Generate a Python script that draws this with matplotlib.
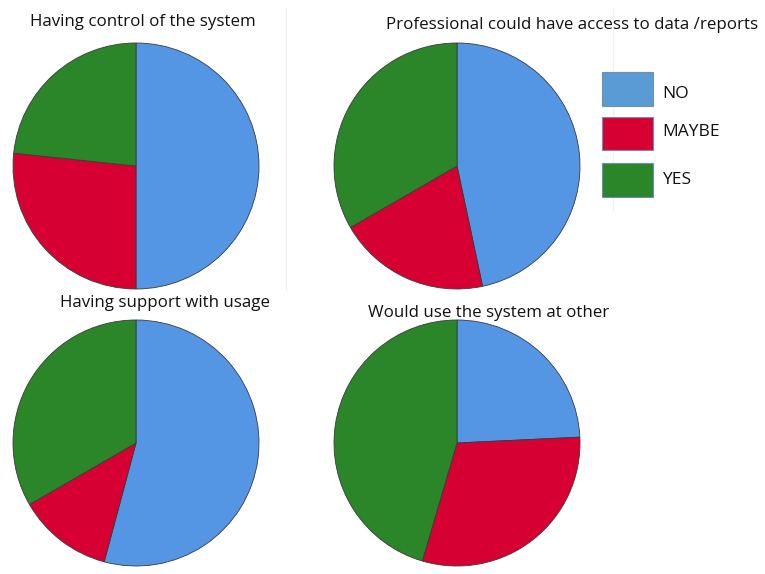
import matplotlib
matplotlib.use("Agg")
import matplotlib.pyplot as plt
from matplotlib.patches import Rectangle

categories = ["NO", "MAYBE", "YES"]
titles = [
    "Having control of the system",
    "Professional could have access to data /reports",
    "Having support with usage",
    "Would use the system at other",
]
control_counts = [15, 8, 7]
access_counts = [14, 6, 10]
support_counts = [13, 3, 8]
other_use_counts = [8, 10, 15]
series = [control_counts, access_counts, support_counts, other_use_counts]

colors = ["#5495E4", "#D60032", "#2A8629"]
legend_colors = ["#5B9BD5", "#D60032", "#2A8629"]

W, H = 765, 574
fig = plt.figure(figsize=(W / 100, H / 100), dpi=100)
plt.rcParams["font.family"] = ["Open Sans", "DejaVu Sans"]

# pie centres (pixels) and radius
centers = [(136, 166), (457, 166), (136, 443), (457, 443)]
radius = 123
box = 126
lim = box / radius

for (cx, cy), vals in zip(centers, series):
    ax = fig.add_axes([(cx - box) / W, 1 - (cy + box) / H, 2 * box / W, 2 * box / H])
    ax.pie(vals, colors=colors, startangle=90, counterclock=False,
           wedgeprops=dict(edgecolor="#3a3a3a", linewidth=0.6))
    ax.set_xlim(-lim, lim)
    ax.set_ylim(-lim, lim)
    ax.set_aspect("equal")
    ax.axis("off")

# overlay in pixel coordinates for panel separators
ov = fig.add_axes([0, 0, 1, 1], zorder=-1)
ov.set_xlim(0, W)
ov.set_ylim(H, 0)
ov.axis("off")
ov.plot([286, 286], [8, 290], color="#f2f2f2", lw=1)
ov.plot([613, 613], [8, 210], color="#f2f2f2", lw=1)

# titles and legend
fig_text = fig.add_axes([0, 0, 1, 1])
fig_text.set_xlim(0, W)
fig_text.set_ylim(H, 0)
fig_text.axis("off")

title_pos = [(143, 22), (572, 25), (165, 303), (489, 313)]
for (tx, ty), t in zip(title_pos, titles):
    fig_text.text(tx, ty, t, ha="center", va="center", fontsize=12.2, color="#111111")

box_y = [(72, 106), (117, 150), (163, 197)]
label_y = [94, 132, 180]
for (y0, y1), ly, c, lab in zip(box_y, label_y, legend_colors, categories):
    fig_text.add_patch(Rectangle((602, y0), 51, y1 - y0, facecolor=c,
                                 edgecolor="#6f8fb0", linewidth=0.8))
    fig_text.text(662, ly, lab, ha="left", va="center", fontsize=12.5, color="#111111")

fig.savefig("out.png", dpi=100, facecolor="white")
